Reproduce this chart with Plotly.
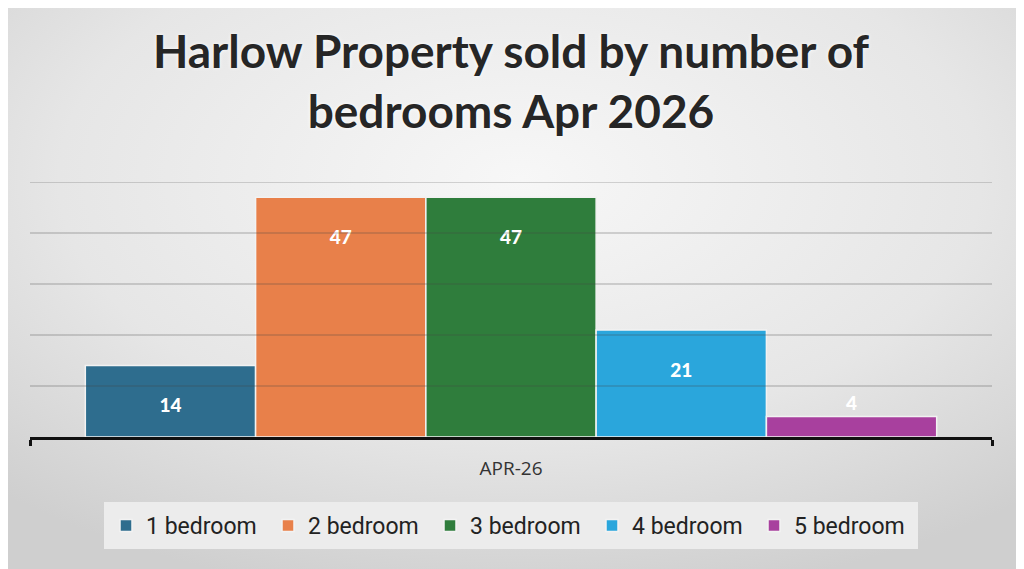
import plotly.graph_objects as go

# data
period = ["APR-26"]
bedrooms = ["1 bedroom", "2 bedroom", "3 bedroom", "4 bedroom", "5 bedroom"]
sold = [14, 47, 47, 21, 4]
colors = ["#2e6d8e", "#e8804a", "#2f7d3c", "#2aa6dc", "#a8409e"]
grid_vals = [10, 20, 30, 40, 50]

W, H = 1024, 569
# page body adds an 8px offset, margins compensate for it
ml, mr, mt, mb = 22, 40, 174, 140
pw, ph = W - ml - mr, H - mt - mb

# soft grey vignette behind everything
bg_svg = (
    "data:image/svg+xml;utf8,"
    "<svg xmlns='http://www.w3.org/2000/svg' width='1024' height='569' viewBox='0 0 1024 569' preserveAspectRatio='none'>"
    "<defs><radialGradient id='g' cx='50%' cy='30%' r='75%'>"
    "<stop offset='0' stop-color='%23f7f7f7'/>"
    "<stop offset='0.6' stop-color='%23e6e6e6'/>"
    "<stop offset='1' stop-color='%23cfcfcf'/>"
    "</radialGradient></defs>"
    "<rect width='1024' height='569' fill='url(%23g)'/></svg>"
)

fig = go.Figure()

for name, val, col in zip(bedrooms, sold, colors):
    small = val < 8
    fig.add_trace(go.Bar(
        x=period, y=[val], name=name,
        marker=dict(color=col, line=dict(color="#f2f2f2", width=1.5)),
        text=[str(val) if small else " <br>" + str(val)],
        textposition="outside" if small else "inside",
        insidetextanchor="end",
        constraintext="none",
        cliponaxis=False,
        textfont=dict(family="Lato, Open Sans, sans-serif", size=19, color="white", weight=900),
        hoverinfo="name+y",
    ))

# gridlines drawn over bars, faint
shapes = []
for g in grid_vals:
    shapes.append(dict(type="line", xref="paper", yref="y", x0=0, x1=1, y0=g, y1=g,
                       line=dict(color="rgba(70,70,70,0.42)", width=1.2), layer="above"))

fig.update_layout(
    width=W, height=H,
    margin=dict(l=ml, r=mr, t=mt, b=mb, autoexpand=False),
    paper_bgcolor="#e4e4e4",
    plot_bgcolor="rgba(0,0,0,0)",
    barmode="group",
    bargap=0.115,
    bargroupgap=0.0,
    title=dict(
        text="Harlow Property sold by number of<br>bedrooms Apr 2026",
        x=0.5, xanchor="center", xref="paper",
        y=1 - 60 / H, yanchor="top", yref="container",
        font=dict(family="Lato, Open Sans, sans-serif", size=46, color="#262626", weight="bold",
                  shadow="0px 0px 4px rgba(255,255,255,0.9)"),
    ),
    xaxis=dict(
        showline=True, linecolor="#111111", linewidth=3,
        ticks="outside", tickson="boundaries", ticklen=6, tickwidth=3, tickcolor="#111111",
        ticklabelstandoff=12,
        tickfont=dict(family="Open Sans, sans-serif", size=19, color="#333333"),
        showgrid=False, zeroline=False,
    ),
    yaxis=dict(
        range=[0, 50], showgrid=False, zeroline=False, showticklabels=False,
        tickvals=grid_vals,
    ),
    legend=dict(
        orientation="h", x=0.5, xanchor="center", y=-0.255, yanchor="top",
        bgcolor="#ececec", bordercolor="#ececec", borderwidth=2,
        entrywidth=117, entrywidthmode="pixels",
        font=dict(family="Roboto, sans-serif", size=23, color="#222222"),
        itemclick=False,
    ),
    images=[dict(source=bg_svg, xref="paper", yref="paper",
                 x=-ml / pw, y=1 + mt / ph, sizex=W / pw, sizey=H / ph,
                 xanchor="left", yanchor="top", sizing="stretch", layer="below")],
    shapes=shapes,
    showlegend=True,
)

fig.write_html("out.html")
